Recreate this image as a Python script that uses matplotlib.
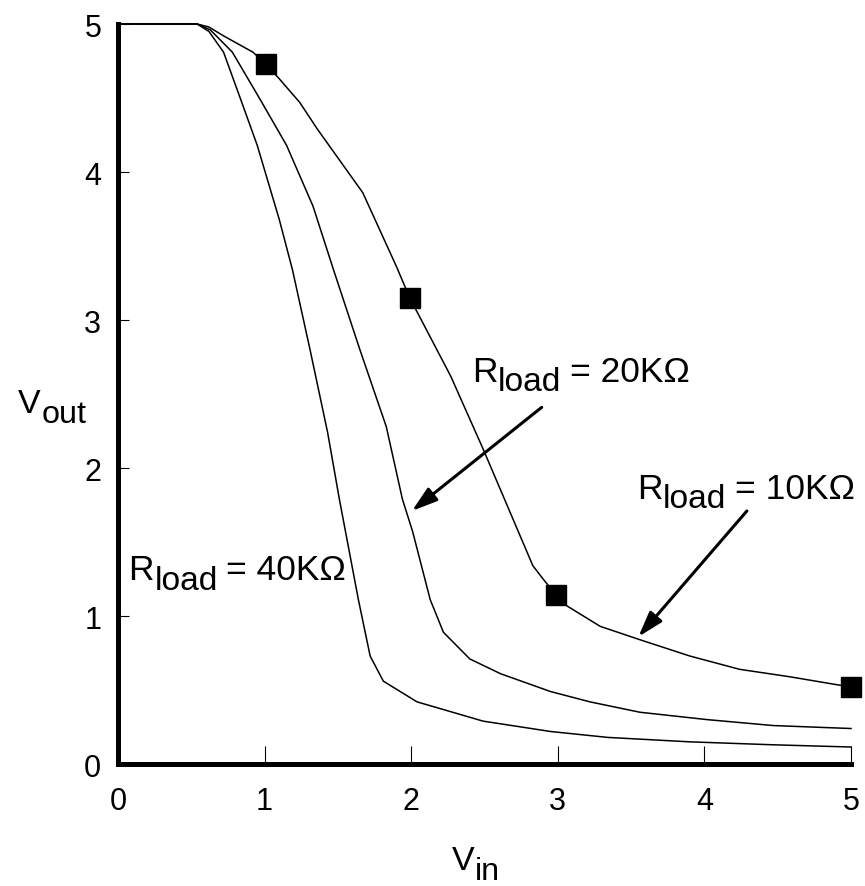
import numpy as np
import matplotlib
matplotlib.use("Agg")
import matplotlib.pyplot as plt

plt.rcParams['font.family'] = ['Liberation Sans', 'DejaVu Sans']

# Vout vs Vin for three load resistors
vin_10k = [0, 0.54, 0.62, 0.72, 0.92, 1.01, 1.10, 1.24, 1.36, 1.67, 1.90, 1.99, 2.27, 2.49, 2.83, 2.90,
           2.99, 3.06, 3.29, 3.56, 3.90, 4.24, 4.58, 5.0]
vout_10k = [5, 5, 4.98, 4.92, 4.81, 4.73, 4.63, 4.47, 4.29, 3.86, 3.36, 3.15, 2.62, 2.13, 1.34, 1.25,
            1.14, 1.07, 0.93, 0.84, 0.73, 0.64, 0.59, 0.52]

vin_20k = [0, 0.54, 0.63, 0.78, 0.97, 1.15, 1.33, 1.47, 1.65, 1.83, 1.94, 2.01, 2.13, 2.22, 2.40, 2.61,
           2.95, 3.22, 3.56, 4.02, 4.47, 5.0]
vout_20k = [5, 5, 4.96, 4.81, 4.49, 4.18, 3.77, 3.34, 2.80, 2.28, 1.79, 1.57, 1.11, 0.89, 0.71, 0.61,
            0.49, 0.42, 0.35, 0.30, 0.26, 0.24]

vin_40k = [0, 0.54, 0.62, 0.72, 0.83, 0.95, 1.10, 1.19, 1.31, 1.43, 1.51, 1.64, 1.72, 1.81, 2.04, 2.49,
           2.95, 3.34, 3.90, 4.47, 5.0]
vout_40k = [5, 5, 4.95, 4.81, 4.51, 4.18, 3.68, 3.34, 2.80, 2.24, 1.79, 1.11, 0.73, 0.56, 0.42, 0.29,
            0.22, 0.18, 0.15, 0.13, 0.115]

# square markers on the 10K curve
mark_vin = [1.01, 1.99, 2.99, 5.0]
mark_vout = [4.73, 3.15, 1.14, 0.52]

ticks = [0, 1, 2, 3, 4, 5]

fig = plt.figure(figsize=(8.65, 8.87), dpi=100)
ax = fig.add_axes([0.1364, 0.1375, 0.8474, 0.8343])

for xs, ys in [(vin_10k, vout_10k), (vin_20k, vout_20k), (vin_40k, vout_40k)]:
    ax.plot(xs, ys, color='k', lw=1.1, clip_on=False, zorder=3)
ax.plot(mark_vin, mark_vout, 's', color='k', ms=15, clip_on=False, zorder=4)

ax.set_xlim(0, 5)
ax.set_ylim(0, 5)
ax.set_xticks(ticks)
ax.set_yticks(ticks)
for s in ['top', 'right']:
    ax.spines[s].set_visible(False)
for s in ['left', 'bottom']:
    ax.spines[s].set_linewidth(3.6)
    ax.spines[s].set_capstyle('projecting')
ax.tick_params(axis='x', direction='in', length=13, width=0.8, pad=16, labelsize=22)
ax.tick_params(axis='y', direction='in', length=8, width=0.8, pad=12, labelsize=22)


def sub_label(x, y, main, sub, rest='', transform=None, size=25.5, drop=7):
    if transform is None:
        transform = ax.transData
    t1 = ax.text(x, y, main, transform=transform, fontsize=size, va='baseline', ha='left')
    t2 = ax.annotate(sub, xy=(1, 0), xycoords=t1, xytext=(0.5, -drop),
                     textcoords='offset points', fontsize=size * 0.95, va='bottom', ha='left')
    if rest:
        ax.annotate(rest, xy=(1, 0), xycoords=(t2, t1), xytext=(6, 0),
                    textcoords='offset points', fontsize=size, va='bottom', ha='left')


sub_label(2.415, 2.59, 'R', 'load', '= 20KΩ')
sub_label(3.54, 1.80, 'R', 'load', '= 10KΩ')
sub_label(0.07, 1.25, 'R', 'load', '= 40KΩ')

sub_label(18 / 865, 1 - 413 / 887, 'V', 'out', transform=fig.transFigure, size=24.5)
sub_label(452 / 865, 1 - 870 / 887, 'V', 'in', transform=fig.transFigure, size=24.5)

arrow = dict(arrowstyle='-|>,head_length=0.7,head_width=0.22', lw=2.2, color='k',
             mutation_scale=22, shrinkA=0, shrinkB=0)
ax.annotate('', xy=(2.005, 1.71), xytext=(2.89, 2.41), arrowprops=arrow)
ax.annotate('', xy=(3.55, 0.86), xytext=(4.29, 1.71), arrowprops=arrow)

fig.savefig('out.png', dpi=100)
